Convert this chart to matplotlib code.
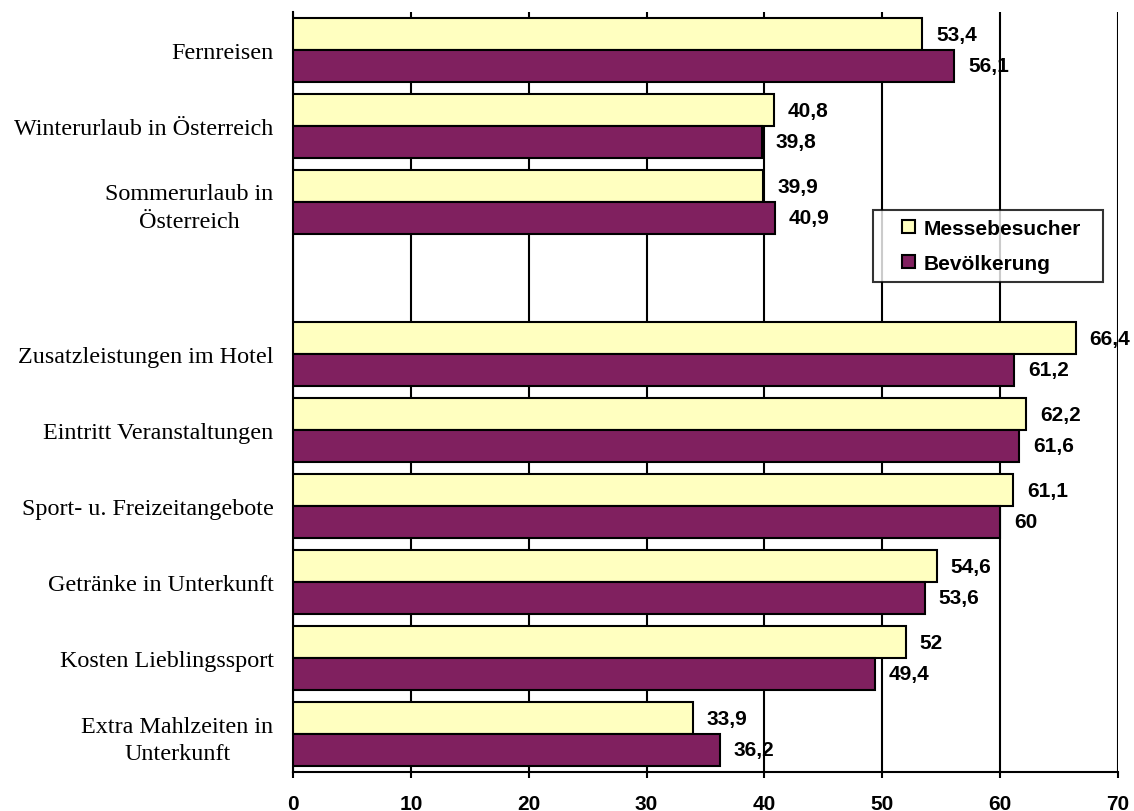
import numpy as np
import matplotlib
matplotlib.use("Agg")
import matplotlib.pyplot as plt
from matplotlib.patches import Patch, Rectangle
from matplotlib.legend_handler import HandlerPatch

# categories, top to bottom; the empty entry is the blank slot in the chart
categories = [
    "Fernreisen",
    "Winterurlaub in Österreich",
    "Sommerurlaub in\nÖsterreich",
    "",
    "Zusatzleistungen im Hotel",
    "Eintritt Veranstaltungen",
    "Sport- u. Freizeitangebote",
    "Getränke in Unterkunft",
    "Kosten Lieblingssport",
    "Extra Mahlzeiten in\nUnterkunft",
]
messebesucher = [53.4, 40.8, 39.9, None, 66.4, 62.2, 61.1, 54.6, 52, 33.9]
bevoelkerung = [56.1, 39.8, 40.9, None, 61.2, 61.6, 60, 53.6, 49.4, 36.2]
series_names = ["Messebesucher", "Bevölkerung"]
x_ticks = [0, 10, 20, 30, 40, 50, 60, 70]

col_yellow = "#FFFFC0"
col_purple = "#80205F"
sans = "Liberation Sans"
serif = "Liberation Serif"

fig = plt.figure(figsize=(11.34, 8.12), dpi=100)
ax = fig.add_axes([0.2584, 0.048, 0.7275, 0.936])

y = np.arange(len(categories))
h = 0.415


def fmt(v):
    if float(v).is_integer():
        return str(int(v))
    return f"{v:.1f}".replace(".", ",")


for vals, off, col in [(messebesucher, -h / 2, col_yellow), (bevoelkerung, h / 2, col_purple)]:
    for yi, v in zip(y, vals):
        if v is None:
            continue
        ax.barh(yi + off, v, height=h, color=col, edgecolor="black", linewidth=1.5, zorder=3)
        ax.annotate(fmt(v), (v, yi + off), xytext=(10, 0), textcoords="offset points",
                    ha="left", va="center", fontsize=15, fontweight="bold",
                    family=sans, zorder=4)

ax.set_xlim(0, 70)
ax.set_ylim(len(categories) - 0.5, -0.5)
ax.set_xticks(x_ticks)
ax.set_xticklabels([str(t) for t in x_ticks], fontsize=15, fontweight="bold", family=sans)
ax.set_yticks(y)
ax.set_yticklabels(categories, fontsize=17.4, family=serif)
for lab in ax.get_yticklabels():
    lab.set_multialignment("center")
    lab.set_linespacing(1.4)
ax.tick_params(axis="y", length=0, pad=14)
ax.tick_params(axis="x", direction="out", length=4.5, width=1.5, pad=11)
ax.grid(axis="x", color="black", linewidth=1.5, zorder=0)
for s in ["top", "right"]:
    ax.spines[s].set_visible(False)
for s in ["left", "bottom"]:
    ax.spines[s].set_linewidth(1.5)


def square_right(legend, orig_handle, xdescent, ydescent, width, height, fontsize):
    # small square at the right end of the handle box
    return Rectangle((width - height - xdescent, -ydescent), height, height)


handles = [Patch(facecolor=col_yellow, edgecolor="black", linewidth=1.5),
           Patch(facecolor=col_purple, edgecolor="black", linewidth=1.5)]
leg = ax.legend(handles, series_names, loc="upper left",
                bbox_to_anchor=(0.703, 0.7395, 0.279, 0.0), mode="expand",
                prop={"family": sans, "weight": "bold", "size": 15},
                frameon=True, fancybox=False, edgecolor="black",
                handlelength=1.6, handleheight=0.58, handletextpad=0.4,
                labelspacing=0.75, borderpad=0.43, borderaxespad=0,
                handler_map={Patch: HandlerPatch(patch_func=square_right)})
leg.get_frame().set_linewidth(1.5)
leg.set_zorder(5)

fig.savefig("out.png", dpi=100)
